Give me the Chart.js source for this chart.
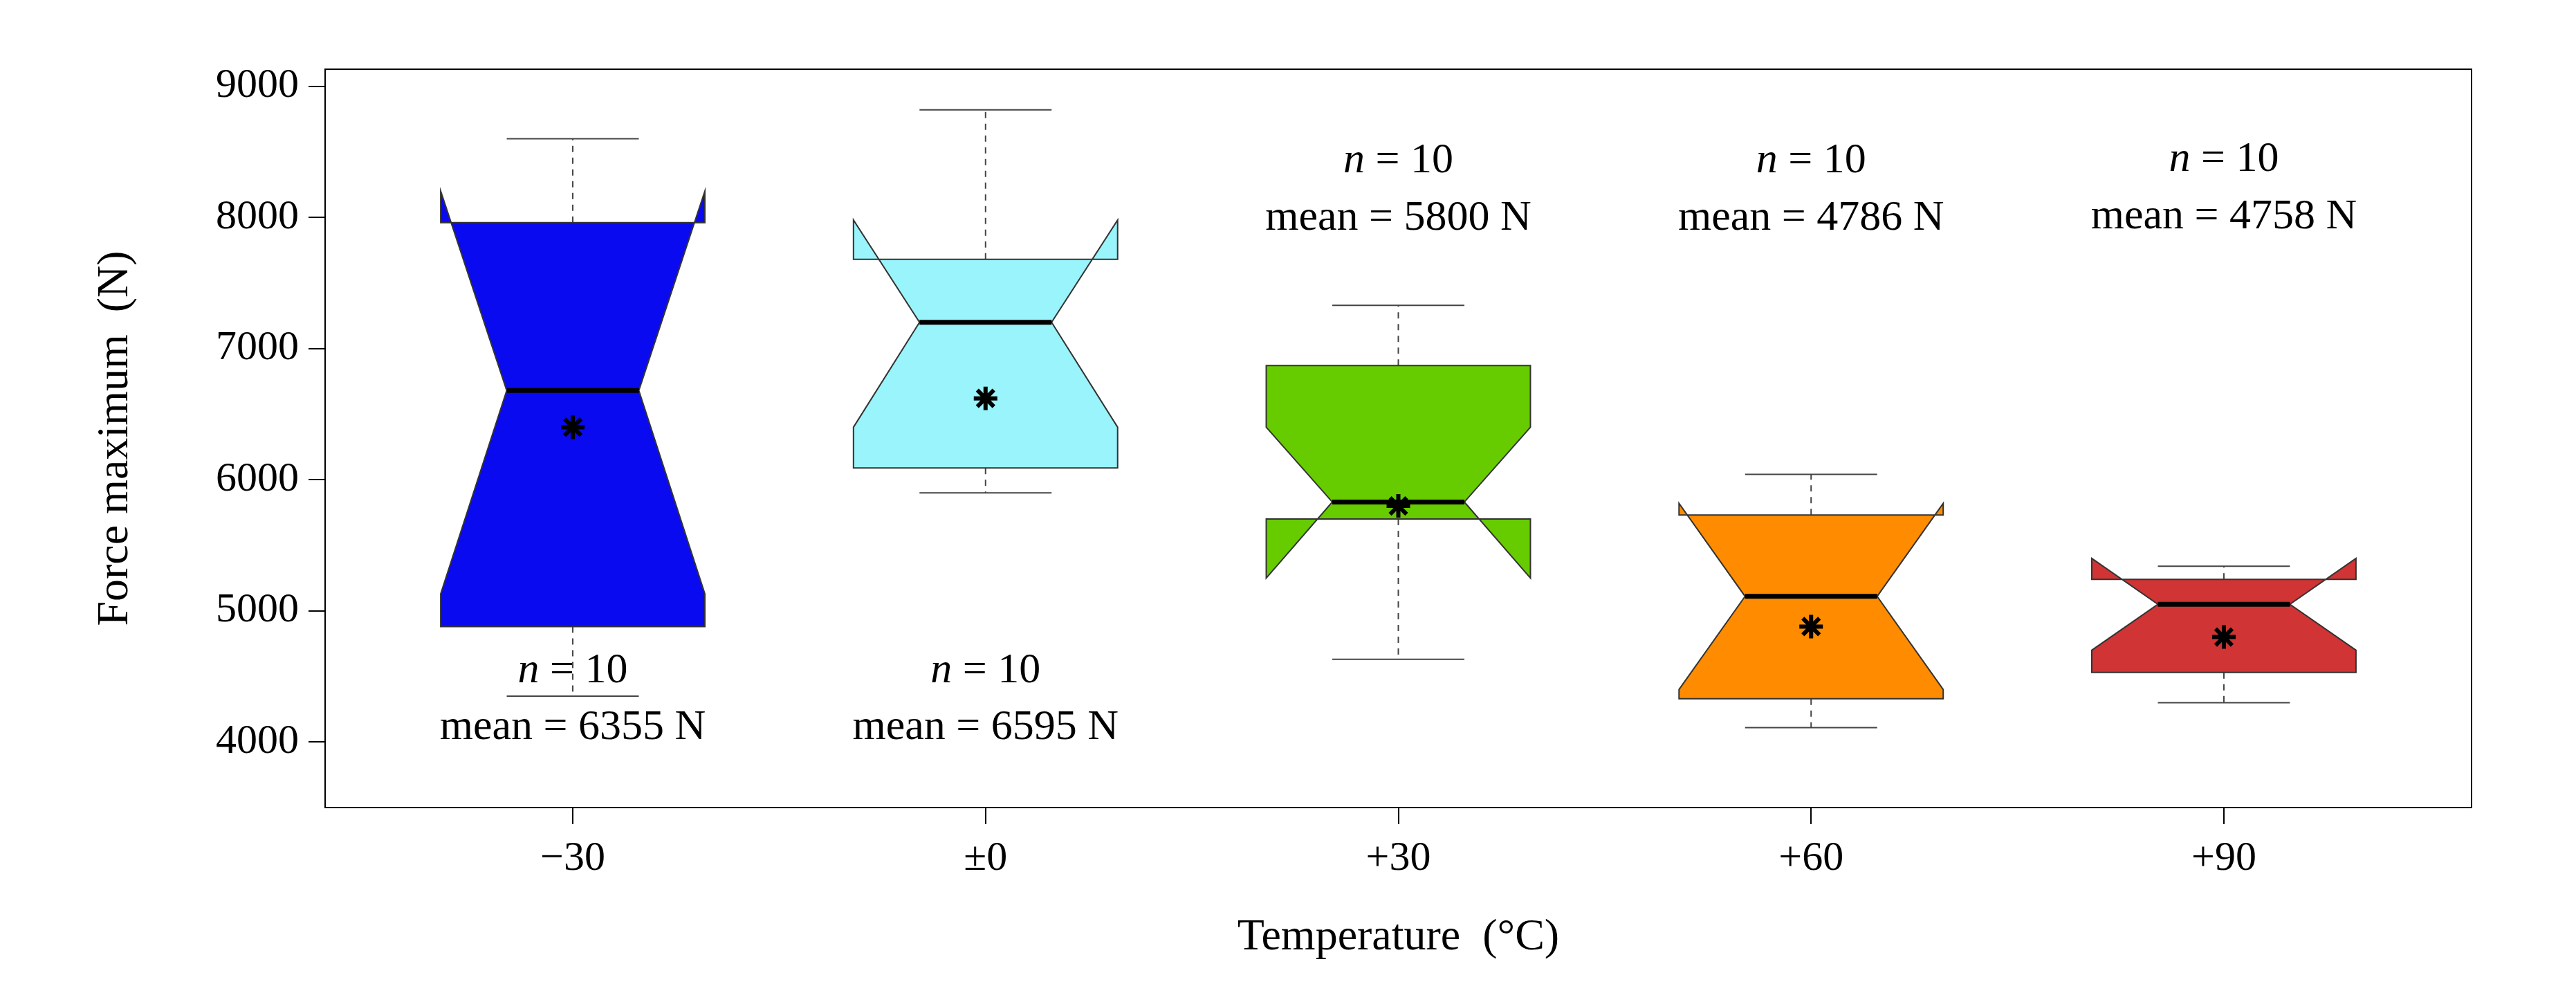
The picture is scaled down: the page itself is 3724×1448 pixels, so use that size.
<!DOCTYPE html>
<html><head><meta charset="utf-8">
<script src="https://cdn.jsdelivr.net/npm/chart.js@4/dist/chart.umd.min.js"></script>
<style>body{margin:0;background:#fff}#w{width:3724px;height:1448px}</style>
</head><body><div id="w"><canvas id="c"></canvas></div>
<script>
const categories = ['\u221230', '\u00b10', '+30', '+60', '+90'];
const whiskerLow  = [4350, 5900, 4630, 4110, 4300];
const hingeLow    = [4880, 6090, 5700, 4330, 4530];
const notchLow    = [5130, 6400, 5250, 4400, 4700];
const medians     = [6680, 7200, 5830, 5110, 5050];
const notchHigh   = [8200, 7980, 6400, 5820, 5400];
const hingeHigh   = [7960, 7680, 6870, 5730, 5240];
const whiskerHigh = [8600, 8820, 7330, 6040, 5340];
const meanMarker  = [6400, 6620, 5800, 4880, 4800];
const meanLabels  = [6355, 6595, 5800, 4786, 4758];
const nValues     = [10, 10, 10, 10, 10];
const labelNY     = [4540, 4540, 8430, 8430, 8440];
const labelMeanY  = [4110, 4110, 7990, 7990, 8000];
const colors = ['#0a0af0', '#99f4fb', '#66cc00', '#ff8c00', '#d03434'];
const yTicks = [4000, 5000, 6000, 7000, 8000, 9000];
const FONT = '"Liberation Serif", serif';

const boxPlugin = {
  id: 'boxes',
  beforeDatasetsDraw(chart) {
    const ctx = chart.ctx, xs = chart.scales.x, ys = chart.scales.y;
    ctx.save();
    categories.forEach((c, i) => {
      const cx = xs.getPixelForValue(i);
      const hw = xs.getPixelForValue(i + 0.32) - cx;
      const inset = hw / 2;
      const L = cx - hw, R = cx + hw;
      const y = v => ys.getPixelForValue(v);
      ctx.strokeStyle = '#444'; ctx.lineWidth = 2;
      ctx.setLineDash([9, 8]);
      ctx.beginPath();
      ctx.moveTo(cx, y(hingeHigh[i])); ctx.lineTo(cx, y(whiskerHigh[i]));
      ctx.moveTo(cx, y(hingeLow[i])); ctx.lineTo(cx, y(whiskerLow[i]));
      ctx.stroke();
      ctx.setLineDash([]);
      ctx.beginPath();
      ctx.moveTo(cx - inset, y(whiskerHigh[i])); ctx.lineTo(cx + inset, y(whiskerHigh[i]));
      ctx.moveTo(cx - inset, y(whiskerLow[i])); ctx.lineTo(cx + inset, y(whiskerLow[i]));
      ctx.stroke();
      ctx.beginPath();
      ctx.moveTo(L, y(hingeLow[i]));
      ctx.lineTo(L, y(notchLow[i]));
      ctx.lineTo(L + inset, y(medians[i]));
      ctx.lineTo(L, y(notchHigh[i]));
      ctx.lineTo(L, y(hingeHigh[i]));
      ctx.lineTo(R, y(hingeHigh[i]));
      ctx.lineTo(R, y(notchHigh[i]));
      ctx.lineTo(R - inset, y(medians[i]));
      ctx.lineTo(R, y(notchLow[i]));
      ctx.lineTo(R, y(hingeLow[i]));
      ctx.closePath();
      ctx.fillStyle = colors[i];
      ctx.fill('nonzero');
      ctx.strokeStyle = '#333'; ctx.lineWidth = 2;
      ctx.stroke();
      ctx.strokeStyle = '#000'; ctx.lineWidth = 7;
      ctx.beginPath();
      ctx.moveTo(L + inset, y(medians[i])); ctx.lineTo(R - inset, y(medians[i]));
      ctx.stroke();
    });
    ctx.restore();
  },
  afterDatasetsDraw(chart) {
    const ctx = chart.ctx, xs = chart.scales.x, ys = chart.scales.y;
    const a = chart.chartArea;
    ctx.save();
    ctx.strokeStyle = '#000'; ctx.lineWidth = 2;
    ctx.strokeRect(a.left, a.top, a.right - a.left, a.bottom - a.top);
    ctx.fillStyle = '#000'; ctx.textBaseline = 'middle';
    const fs = 62;
    categories.forEach((c, i) => {
      const cx = xs.getPixelForValue(i);
      const s1 = 'n', s2 = ' = ' + nValues[i];
      ctx.font = 'italic ' + fs + 'px ' + FONT;
      const w1 = ctx.measureText(s1).width;
      ctx.font = fs + 'px ' + FONT;
      const w2 = ctx.measureText(s2).width;
      const x0 = cx - (w1 + w2) / 2, yy = ys.getPixelForValue(labelNY[i]);
      ctx.textAlign = 'left';
      ctx.font = 'italic ' + fs + 'px ' + FONT; ctx.fillText(s1, x0, yy);
      ctx.font = fs + 'px ' + FONT; ctx.fillText(s2, x0 + w1, yy);
      ctx.textAlign = 'center';
      ctx.fillText('mean = ' + meanLabels[i] + ' N', cx, ys.getPixelForValue(labelMeanY[i]));
    });
    ctx.restore();
  }
};

new Chart(document.getElementById('c'), {
  type: 'scatter',
  data: { datasets: [{
    data: meanMarker.map((v, i) => ({ x: i, y: v })),
    pointStyle: 'star', pointRadius: 17, borderColor: '#000', borderWidth: 6,
    backgroundColor: '#000'
  }]},
  options: {
    responsive: true, maintainAspectRatio: false, animation: false,
    devicePixelRatio: 1,
    layout: { padding: { top: 100, right: 151, left: 125, bottom: 50 } },
    plugins: { legend: { display: false }, tooltip: { enabled: false } },
    scales: {
      x: {
        type: 'linear', min: -0.6, max: 4.6,
        afterBuildTicks: s => { s.ticks = categories.map((c, i) => ({ value: i })); },
        afterFit: s => { s.height = 231; },
        ticks: { callback: (v) => categories[v], color: '#000', font: { family: FONT, size: 60 }, padding: 14 },
        grid: { drawOnChartArea: false, tickLength: 24, color: '#000', lineWidth: 2 },
        border: { display: false },
        title: { display: true, text: 'Temperature  (\u00b0C)', color: '#000', font: { family: FONT, size: 64 }, padding: { top: 0 } }
      },
      y: {
        min: 3500, max: 9130,
        afterBuildTicks: s => { s.ticks = yTicks.map(v => ({ value: v })); },
        afterFit: s => { s.width = 345; },
        ticks: { callback: v => String(v), color: '#000', font: { family: FONT, size: 60 }, padding: 14 },
        grid: { drawOnChartArea: false, tickLength: 24, color: '#000', lineWidth: 2 },
        border: { display: false },
        title: { display: true, text: 'Force maximum  (N)', color: '#000', font: { family: FONT, size: 64 }, padding: { bottom: 0 } }
      }
    }
  },
  plugins: [boxPlugin]
});
</script></body></html>
